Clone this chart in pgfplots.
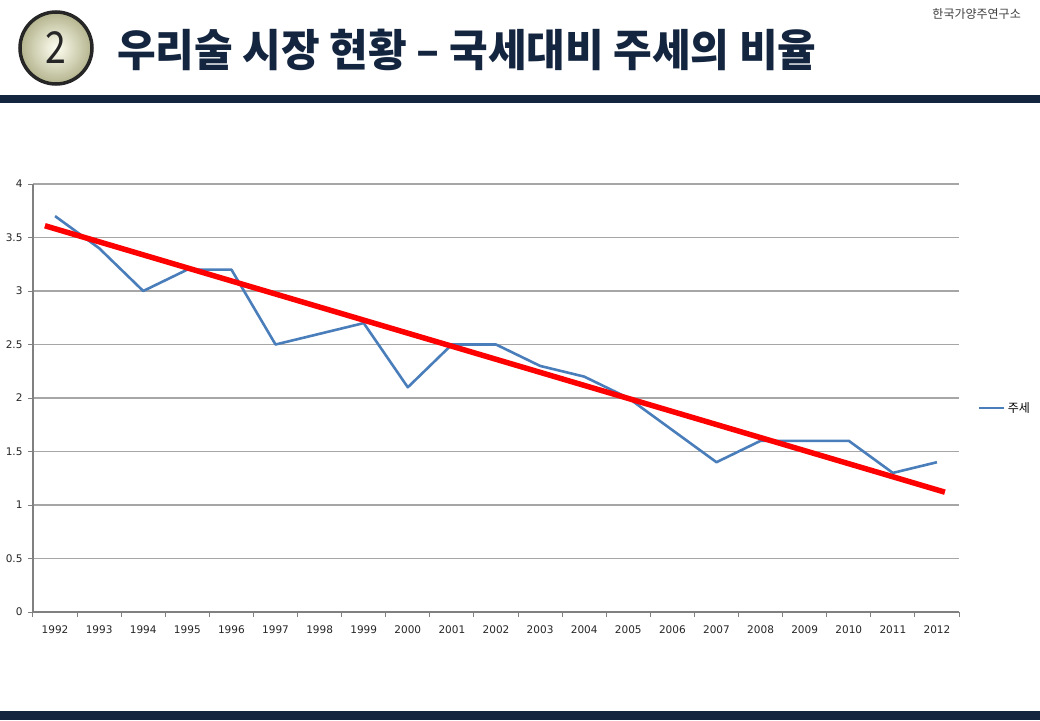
\documentclass[border=0pt]{standalone}
\usepackage{fontspec}
\usepackage{graphicx}
\usepackage{pgfplots}
\usepackage{pgfplotstable}
\pgfplotsset{compat=1.18}
\setmainfont{DejaVu Sans}
\newfontfamily\kr{Noto Sans CJK KR}
\definecolor{navy}{HTML}{14253F}
\definecolor{excelblue}{HTML}{4A7EBB}
\definecolor{gridgray}{HTML}{A6A6A6}

% ratio of liquor tax to national tax, 1992..2012 (index 0..20)
\pgfplotstableread{
x y
0 3.7
1 3.4
2 3.0
3 3.2
4 3.2
5 2.5
6 2.6
7 2.7
8 2.1
9 2.5
10 2.5
11 2.3
12 2.2
13 2.0
14 1.7
15 1.4
16 1.6
17 1.6
18 1.6
19 1.3
20 1.4
}\jusedata

\begin{document}
\begin{tikzpicture}
\useasboundingbox (0,0) rectangle (1040pt,-720pt);
\fill[white] (0,0) rectangle (1040pt,-720pt);

\begin{axis}[
  at={(33pt,-612pt)}, anchor=south west,
  scale only axis, width=926pt, height=428pt,
  xmin=-0.5, xmax=20.5, ymin=0, ymax=4,
  xtick={0,...,20},
  xticklabels={1992,1993,1994,1995,1996,1997,1998,1999,2000,2001,2002,2003,2004,2005,2006,2007,2008,2009,2010,2011,2012},
  minor xtick={-0.5,0.5,...,20.5},
  ytick={0,0.5,...,4},
  ymajorgrids, grid style={draw=gridgray, line width=1.2pt},
  axis x line*=bottom, axis y line*=left,
  axis line style={-, draw=gray, line width=1.2pt},
  tick align=outside, major tick length=5pt, minor tick length=5pt,
  tick style={draw=gray, line width=1pt},
  major x tick style={draw=none},
  /pgf/number format/assume math mode=true,
  ticklabel style={font=\fontsize{10.5}{12}\selectfont, text=black!85},
  xticklabel style={yshift=-5pt},
  yticklabel style={xshift=-2pt},
  legend style={at={(1.0205,0.477)}, anchor=west, draw=none, fill=none,
    inner sep=0pt, font=\kr\fontsize{12}{14}\selectfont},
  legend image code/.code={\draw[#1] (0pt,0pt) -- (25pt,0pt);},
]
\addplot[excelblue, line width=2.6pt, line join=round] table[x=x, y=y] {\jusedata};
\addlegendentry{주세}
% linear trend line
\addplot[red, line width=5.5pt, forget plot] coordinates {(-0.23,3.61) (20.18,1.12)};
\end{axis}

% header
\fill[navy] (0,-95pt) rectangle (1040pt,-103pt);
\fill[navy] (0,-711pt) rectangle (1040pt,-720pt);
\shade[inner color=white!95!yellow, outer color=black!35!white!85!yellow] (56pt,-48pt) circle (36pt);
\draw[line width=3.5pt, color=black!85] (56pt,-48pt) circle (36pt);
\node[font=\kr\fontsize{44}{48}\selectfont, text=black!85] at (56pt,-48pt) {\scalebox{0.85}[1]{2}};
\node[anchor=west, inner sep=0pt, text=navy, font=\kr\bfseries\fontsize{44}{50}\selectfont] at (117pt,-50pt) {\scalebox{0.955}[1]{우리술 시장 현황 – 국세대비 주세의 비율}};
\node[anchor=east, inner sep=0pt, text=black!75, font=\kr\fontsize{12}{14}\selectfont] at (1021pt,-14pt) {한국가양주연구소};
\end{tikzpicture}
\end{document}
